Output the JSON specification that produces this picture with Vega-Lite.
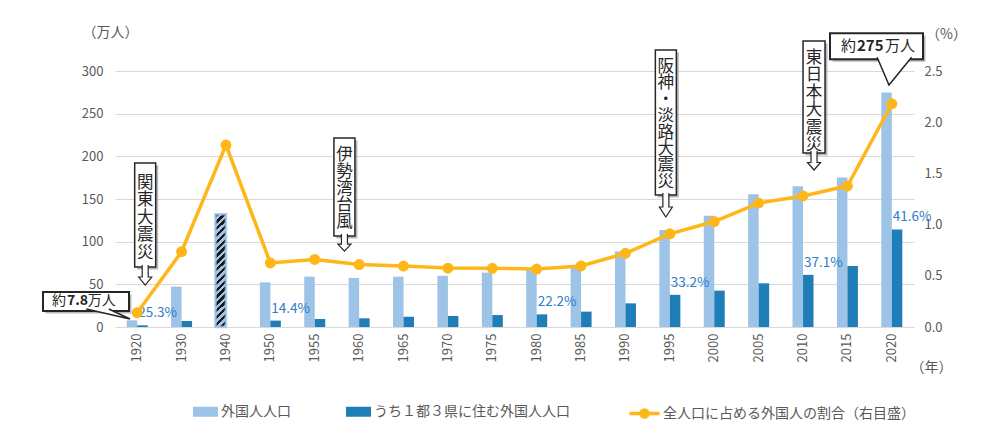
{
"$schema": "https://vega.github.io/schema/vega-lite/v6.json",
"width": 799,
"height": 256,
"autosize": {"type": "none"},
"padding": {"left": 115, "top": 71, "right": 72, "bottom": 112},
"background": "white",
"config": {
  "font": "Noto Sans CJK JP",
  "view": {"stroke": null},
  "axis": {"labelFont": "Noto Sans CJK JP", "titleFont": "Noto Sans CJK JP", "labelColor": "#595959", "titleColor": "#595959", "labelFontSize": 13, "titleFontSize": 14, "titleFontWeight": "normal", "domain": false, "ticks": false, "grid": false},
  "legend": {"labelFont": "Noto Sans CJK JP", "labelColor": "#595959", "labelFontSize": 14, "padding": 0}
},
"datasets": {
  "pop": [
    {"year": "1920", "total": 7.8, "tokyo": 2.0, "ratio": 0.14, "share": "25.3%"},
    {"year": "1930", "total": 47.3, "tokyo": 7.0, "ratio": 0.735},
    {"year": "1940", "total": 132, "ratio": 1.777},
    {"year": "1950", "total": 52.3, "tokyo": 7.5, "ratio": 0.625, "share": "14.4%"},
    {"year": "1955", "total": 59, "tokyo": 9.4, "ratio": 0.66},
    {"year": "1960", "total": 57.5, "tokyo": 10.2, "ratio": 0.61},
    {"year": "1965", "total": 59, "tokyo": 12, "ratio": 0.595},
    {"year": "1970", "total": 60, "tokyo": 12.9, "ratio": 0.575},
    {"year": "1975", "total": 63.7, "tokyo": 14, "ratio": 0.573},
    {"year": "1980", "total": 66.5, "tokyo": 14.8, "ratio": 0.566, "share": "22.2%"},
    {"year": "1985", "total": 70.7, "tokyo": 18, "ratio": 0.596},
    {"year": "1990", "total": 88.6, "tokyo": 27.7, "ratio": 0.72},
    {"year": "1995", "total": 113.6, "tokyo": 37.7, "ratio": 0.91, "share": "33.2%"},
    {"year": "2000", "total": 130.5, "tokyo": 42.6, "ratio": 1.03},
    {"year": "2005", "total": 155.5, "tokyo": 51.2, "ratio": 1.21},
    {"year": "2010", "total": 164.8, "tokyo": 61.1, "ratio": 1.28, "share": "37.1%"},
    {"year": "2015", "total": 175.2, "tokyo": 71.5, "ratio": 1.377},
    {"year": "2020", "total": 274.7, "tokyo": 114.3, "ratio": 2.18, "share": "41.6%"}
  ]
},
"layer": [
  {
    "layer": [
      {
        "data": {"name": "pop"},
        "mark": {"type": "bar", "width": 10.5, "xOffset": -5.25},
        "encoding": {
          "x": {"field": "year", "type": "ordinal",
                "scale": {"domain": ["1920","1930","1940","1950","1955","1960","1965","1970","1975","1980","1985","1990","1995","2000","2005","2010","2015","2020"], "paddingInner": 0, "paddingOuter": 0},
                "axis": {"title": "（年）", "titleAngle": 0, "titleX": 816, "titleY": 40, "titleAlign": "center", "titleBaseline": "middle", "labelAngle": -90, "labelAlign": "right", "labelBaseline": "middle", "labelPadding": 6, "labelFontSize": 13}},
          "y": {"field": "total", "type": "quantitative",
                "scale": {"domain": [0, 300], "nice": false},
                "axis": {"title": "（万人）", "titleAngle": 0, "titleX": -5, "titleY": -39, "titleAlign": "center", "titleBaseline": "middle", "values": [0, 50, 100, 150, 200, 250, 300], "grid": true, "gridColor": "#D9D9D9", "labelPadding": 12}},
          "color": {"datum": "外国人人口",
                    "scale": {"domain": ["外国人人口", "うち１都３県に住む外国人人口"], "range": ["#9DC3E6", "#1F7EB8"]},
                    "legend": {"orient": "none", "legendX": 78, "legendY": 328, "direction": "horizontal", "title": null, "symbolType": "M-1,-0.4L1,-0.4L1,0.4L-1,0.4Z", "symbolSize": 625, "symbolStrokeWidth": 0, "symbolOpacity": 1, "columnPadding": 55, "labelOffset": 3, "labelLimit": 400}}
        }
      },
      {
        "data": {"name": "pop"},
        "transform": [{"filter": "datum.year == '1940'"}],
        "mark": {"type": "bar", "width": 10.5, "xOffset": -5.25, "stroke": "#9DC3E6", "strokeWidth": 2.5, "strokeOpacity": 0.8,
          "fill": {"gradient": "linear", "x1": 0, "y1": 0, "x2": 0.0996, "y2": 1.0828, "stops": [
            {"offset": 0, "color": "#1a1a1a"}, {"offset": 0.0278, "color": "#1a1a1a"}, {"offset": 0.0278, "color": "#9DC3E6"}, {"offset": 0.0556, "color": "#9DC3E6"},
            {"offset": 0.0556, "color": "#1a1a1a"}, {"offset": 0.0833, "color": "#1a1a1a"}, {"offset": 0.0833, "color": "#9DC3E6"}, {"offset": 0.1111, "color": "#9DC3E6"},
            {"offset": 0.1111, "color": "#1a1a1a"}, {"offset": 0.1389, "color": "#1a1a1a"}, {"offset": 0.1389, "color": "#9DC3E6"}, {"offset": 0.1667, "color": "#9DC3E6"},
            {"offset": 0.1667, "color": "#1a1a1a"}, {"offset": 0.1944, "color": "#1a1a1a"}, {"offset": 0.1944, "color": "#9DC3E6"}, {"offset": 0.2222, "color": "#9DC3E6"},
            {"offset": 0.2222, "color": "#1a1a1a"}, {"offset": 0.25, "color": "#1a1a1a"}, {"offset": 0.25, "color": "#9DC3E6"}, {"offset": 0.2778, "color": "#9DC3E6"},
            {"offset": 0.2778, "color": "#1a1a1a"}, {"offset": 0.3056, "color": "#1a1a1a"}, {"offset": 0.3056, "color": "#9DC3E6"}, {"offset": 0.3333, "color": "#9DC3E6"},
            {"offset": 0.3333, "color": "#1a1a1a"}, {"offset": 0.3611, "color": "#1a1a1a"}, {"offset": 0.3611, "color": "#9DC3E6"}, {"offset": 0.3889, "color": "#9DC3E6"},
            {"offset": 0.3889, "color": "#1a1a1a"}, {"offset": 0.4167, "color": "#1a1a1a"}, {"offset": 0.4167, "color": "#9DC3E6"}, {"offset": 0.4444, "color": "#9DC3E6"},
            {"offset": 0.4444, "color": "#1a1a1a"}, {"offset": 0.4722, "color": "#1a1a1a"}, {"offset": 0.4722, "color": "#9DC3E6"}, {"offset": 0.5, "color": "#9DC3E6"},
            {"offset": 0.5, "color": "#1a1a1a"}, {"offset": 0.5278, "color": "#1a1a1a"}, {"offset": 0.5278, "color": "#9DC3E6"}, {"offset": 0.5556, "color": "#9DC3E6"},
            {"offset": 0.5556, "color": "#1a1a1a"}, {"offset": 0.5833, "color": "#1a1a1a"}, {"offset": 0.5833, "color": "#9DC3E6"}, {"offset": 0.6111, "color": "#9DC3E6"},
            {"offset": 0.6111, "color": "#1a1a1a"}, {"offset": 0.6389, "color": "#1a1a1a"}, {"offset": 0.6389, "color": "#9DC3E6"}, {"offset": 0.6667, "color": "#9DC3E6"},
            {"offset": 0.6667, "color": "#1a1a1a"}, {"offset": 0.6944, "color": "#1a1a1a"}, {"offset": 0.6944, "color": "#9DC3E6"}, {"offset": 0.7222, "color": "#9DC3E6"},
            {"offset": 0.7222, "color": "#1a1a1a"}, {"offset": 0.75, "color": "#1a1a1a"}, {"offset": 0.75, "color": "#9DC3E6"}, {"offset": 0.7778, "color": "#9DC3E6"},
            {"offset": 0.7778, "color": "#1a1a1a"}, {"offset": 0.8056, "color": "#1a1a1a"}, {"offset": 0.8056, "color": "#9DC3E6"}, {"offset": 0.8333, "color": "#9DC3E6"},
            {"offset": 0.8333, "color": "#1a1a1a"}, {"offset": 0.8611, "color": "#1a1a1a"}, {"offset": 0.8611, "color": "#9DC3E6"}, {"offset": 0.8889, "color": "#9DC3E6"},
            {"offset": 0.8889, "color": "#1a1a1a"}, {"offset": 0.9167, "color": "#1a1a1a"}, {"offset": 0.9167, "color": "#9DC3E6"}, {"offset": 0.9444, "color": "#9DC3E6"},
            {"offset": 0.9444, "color": "#1a1a1a"}, {"offset": 0.9722, "color": "#1a1a1a"}, {"offset": 0.9722, "color": "#9DC3E6"}, {"offset": 1, "color": "#9DC3E6"}
          ]}},
        "encoding": {
          "x": {"field": "year", "type": "ordinal"},
          "y": {"field": "total", "type": "quantitative"}
        }
      },
      {
        "data": {"name": "pop"},
        "mark": {"type": "bar", "width": 10.5, "xOffset": 5.25},
        "encoding": {
          "x": {"field": "year", "type": "ordinal"},
          "y": {"field": "tokyo", "type": "quantitative"},
          "color": {"datum": "うち１都３県に住む外国人人口"}
        }
      },
      {
        "data": {"name": "pop"},
        "transform": [{"filter": "isValid(datum.share)"}],
        "mark": {"type": "text", "align": "left", "baseline": "middle", "dx": 1, "dy": -12, "fontSize": 13.5, "color": "#2E7DC7"},
        "encoding": {
          "x": {"field": "year", "type": "ordinal"},
          "y": {"field": "tokyo", "type": "quantitative"},
          "text": {"field": "share"}
        }
      },
      {
        "data": {"values": [{"year": "1920", "t": ["関", "東", "大", "震", "災"]}]},
        "encoding": {"x": {"field": "year", "type": "ordinal"}},
        "layer": [
          {"mark": {"type": "bar", "width": 21, "xOffset": 10.5, "yOffset": 2.5, "y2Offset": 2.5, "fill": "#7f7f7f", "opacity": 0.55},
           "encoding": {"y": {"datum": 192.2}, "y2": {"datum": 70.3}}},
          {"mark": {"type": "bar", "width": 21, "xOffset": 8, "fill": "white", "stroke": "#262626", "strokeWidth": 1.5},
           "encoding": {"y": {"datum": 192.2}, "y2": {"datum": 70.3}}},
          {"mark": {"type": "point", "shape": "M-3,-2L-3,10L-6.5,10L0,18L6.5,10L3,10L3,-2", "size": 4, "xOffset": 8, "filled": true, "fill": "white", "stroke": "#262626", "strokeWidth": 1.2, "opacity": 1},
           "encoding": {"y": {"datum": 70.3}}},
          {"mark": {"type": "text", "xOffset": 8, "align": "center", "baseline": "middle", "fontSize": 16.5, "lineHeight": 17.5, "color": "#262626"},
           "encoding": {"y": {"datum": 168.8}, "text": {"field": "t"}}}
        ]
      },
      {
        "data": {"values": [{"year": "1960", "t": ["伊", "勢", "湾", "台", "風"]}]},
        "encoding": {"x": {"field": "year", "type": "ordinal"}},
        "layer": [
          {"mark": {"type": "bar", "width": 21, "xOffset": -12.2, "yOffset": 2.5, "y2Offset": 2.5, "fill": "#7f7f7f", "opacity": 0.55},
           "encoding": {"y": {"datum": 221.5}, "y2": {"datum": 106.6}}},
          {"mark": {"type": "bar", "width": 21, "xOffset": -14.7, "fill": "white", "stroke": "#262626", "strokeWidth": 1.5},
           "encoding": {"y": {"datum": 221.5}, "y2": {"datum": 106.6}}},
          {"mark": {"type": "point", "shape": "M-3,-2L-3,8L-6.5,8L0,15L6.5,8L3,8L3,-2", "size": 4, "xOffset": -14.7, "filled": true, "fill": "white", "stroke": "#262626", "strokeWidth": 1.2, "opacity": 1},
           "encoding": {"y": {"datum": 106.6}}},
          {"mark": {"type": "text", "xOffset": -14.7, "align": "center", "baseline": "middle", "fontSize": 16.5, "lineHeight": 16.8, "color": "#262626"},
           "encoding": {"y": {"datum": 201.6}, "text": {"field": "t"}}}
        ]
      },
      {
        "data": {"values": [{"year": "1995", "t": ["阪", "神", "・", "淡", "路", "大", "震", "災"]}]},
        "encoding": {"x": {"field": "year", "type": "ordinal"}},
        "layer": [
          {"mark": {"type": "bar", "width": 21, "xOffset": -1.5, "yOffset": 2.5, "y2Offset": 2.5, "fill": "#7f7f7f", "opacity": 0.55},
           "encoding": {"y": {"datum": 324.6}, "y2": {"datum": 154.7}}},
          {"mark": {"type": "bar", "width": 21, "xOffset": -4, "fill": "white", "stroke": "#262626", "strokeWidth": 1.5},
           "encoding": {"y": {"datum": 324.6}, "y2": {"datum": 154.7}}},
          {"mark": {"type": "point", "shape": "M-3,-2L-3,12L-6.5,12L0,22L6.5,12L3,12L3,-2", "size": 4, "xOffset": -4, "filled": true, "fill": "white", "stroke": "#262626", "strokeWidth": 1.2, "opacity": 1},
           "encoding": {"y": {"datum": 154.7}}},
          {"mark": {"type": "text", "xOffset": -4, "align": "center", "baseline": "middle", "fontSize": 16.5, "lineHeight": 16.4, "color": "#262626"},
           "encoding": {"y": {"datum": 304.7}, "text": {"field": "t"}}}
        ]
      },
      {
        "data": {"values": [{"year": "2010", "t": ["東", "日", "本", "大", "震", "災"]}]},
        "encoding": {"x": {"field": "year", "type": "ordinal"}},
        "layer": [
          {"mark": {"type": "bar", "width": 22, "xOffset": 13.5, "yOffset": 2.5, "y2Offset": 2.5, "fill": "#7f7f7f", "opacity": 0.55},
           "encoding": {"y": {"datum": 335.2}, "y2": {"datum": 203.9}}},
          {"mark": {"type": "bar", "width": 22, "xOffset": 11, "fill": "white", "stroke": "#262626", "strokeWidth": 1.5},
           "encoding": {"y": {"datum": 335.2}, "y2": {"datum": 203.9}}},
          {"mark": {"type": "point", "shape": "M-3,-2L-3,9.5L-6.5,9.5L0,17L6.5,9.5L3,9.5L3,-2", "size": 4, "xOffset": 11, "filled": true, "fill": "white", "stroke": "#262626", "strokeWidth": 1.2, "opacity": 1},
           "encoding": {"y": {"datum": 203.9}}},
          {"mark": {"type": "text", "xOffset": 11, "align": "center", "baseline": "middle", "fontSize": 16.5, "lineHeight": 17.4, "color": "#262626"},
           "encoding": {"y": {"datum": 315.2}, "text": {"field": "t"}}}
        ]
      },
      {
        "data": {"values": [{"year": "1920", "a": "約", "b": "7.8", "c": "万人"}]},
        "encoding": {"x": {"field": "year", "type": "ordinal"}},
        "layer": [
          {"mark": {"type": "bar", "width": 86, "xOffset": -48.7, "yOffset": 2.5, "y2Offset": 2.5, "fill": "#7f7f7f", "opacity": 0.55},
           "encoding": {"y": {"datum": 41.0}, "y2": {"datum": 18.75}}},
          {"mark": {"type": "bar", "width": 86, "xOffset": -51.2, "fill": "white", "stroke": "#262626", "strokeWidth": 2},
           "encoding": {"y": {"datum": 41.0}, "y2": {"datum": 18.75}}},
          {"mark": {"type": "point", "shape": "M-43.7,-10L0,0L-21.2,-10", "size": 4, "xOffset": -7.2, "filled": true, "fill": "white", "stroke": "#262626", "strokeWidth": 1.5, "opacity": 1},
           "encoding": {"y": {"datum": 9.4}}},
          {"mark": {"type": "text", "xOffset": -71.2, "align": "right", "baseline": "middle", "fontSize": 14, "color": "#262626"},
           "encoding": {"y": {"datum": 29.9}, "text": {"field": "a"}}},
          {"mark": {"type": "text", "xOffset": -70.2, "align": "left", "baseline": "middle", "fontSize": 14, "fontWeight": "bold", "color": "#262626"},
           "encoding": {"y": {"datum": 29.9}, "text": {"field": "b"}}},
          {"mark": {"type": "text", "xOffset": -49.5, "align": "left", "baseline": "middle", "fontSize": 14, "color": "#262626"},
           "encoding": {"y": {"datum": 29.9}, "text": {"field": "c"}}}
        ]
      },
      {
        "data": {"values": [{"year": "2020", "a": "約", "b": "275", "c": "万人"}]},
        "encoding": {"x": {"field": "year", "type": "ordinal"}},
        "layer": [
          {"mark": {"type": "bar", "width": 93, "xOffset": -12.8, "yOffset": 2.5, "y2Offset": 2.5, "fill": "#7f7f7f", "opacity": 0.55},
           "encoding": {"y": {"datum": 344.2}, "y2": {"datum": 313.7}}},
          {"mark": {"type": "bar", "width": 93, "xOffset": -15.3, "fill": "white", "stroke": "#262626", "strokeWidth": 2},
           "encoding": {"y": {"datum": 344.2}, "y2": {"datum": 313.7}}},
          {"mark": {"type": "point", "shape": "M-11.9,-27.7L0,0L22.6,-27.7", "size": 4, "xOffset": -2.8, "filled": true, "fill": "white", "stroke": "#262626", "strokeWidth": 1.5, "opacity": 1},
           "encoding": {"y": {"datum": 283.6}}},
          {"mark": {"type": "text", "xOffset": -35.8, "align": "right", "baseline": "middle", "fontSize": 15, "color": "#262626"},
           "encoding": {"y": {"datum": 329.1}, "text": {"field": "a"}}},
          {"mark": {"type": "text", "xOffset": -34.8, "align": "left", "baseline": "middle", "fontSize": 15, "fontWeight": "bold", "color": "#262626"},
           "encoding": {"y": {"datum": 329.1}, "text": {"field": "b"}}},
          {"mark": {"type": "text", "xOffset": -6.8, "align": "left", "baseline": "middle", "fontSize": 15, "color": "#262626"},
           "encoding": {"y": {"datum": 329.1}, "text": {"field": "c"}}}
        ]
      }
    ]
  },
  {
    "data": {"name": "pop"},
    "mark": {"type": "line", "strokeWidth": 3.5, "point": {"filled": true, "fill": "#FFB619", "size": 80, "opacity": 1}},
    "encoding": {
      "x": {"field": "year", "type": "ordinal"},
      "y": {"field": "ratio", "type": "quantitative",
            "scale": {"domain": [0, 2.5], "nice": false},
            "axis": {"orient": "right", "title": "（%）", "titleAngle": 0, "titleX": 32, "titleY": -37, "titleAlign": "center", "titleBaseline": "middle", "values": [0, 0.5, 1, 1.5, 2, 2.5], "format": ".1f", "labelPadding": 10}},
      "stroke": {"datum": "全人口に占める外国人の割合（右目盛）",
                 "scale": {"range": ["#FFB619"]},
                 "legend": {"orient": "none", "legendX": 515, "legendY": 328, "title": null, "symbolType": "M-1.2,0L1.2,0M0.28,0A0.28,0.28,0,1,1,-0.28,0A0.28,0.28,0,1,1,0.28,0", "symbolSize": 625, "symbolStrokeWidth": 3.5, "symbolFillColor": "#FFB619", "symbolStrokeColor": "#FFB619", "labelOffset": 4, "labelLimit": 400}}
    }
  }
],
"resolve": {"scale": {"y": "independent"}}
}
